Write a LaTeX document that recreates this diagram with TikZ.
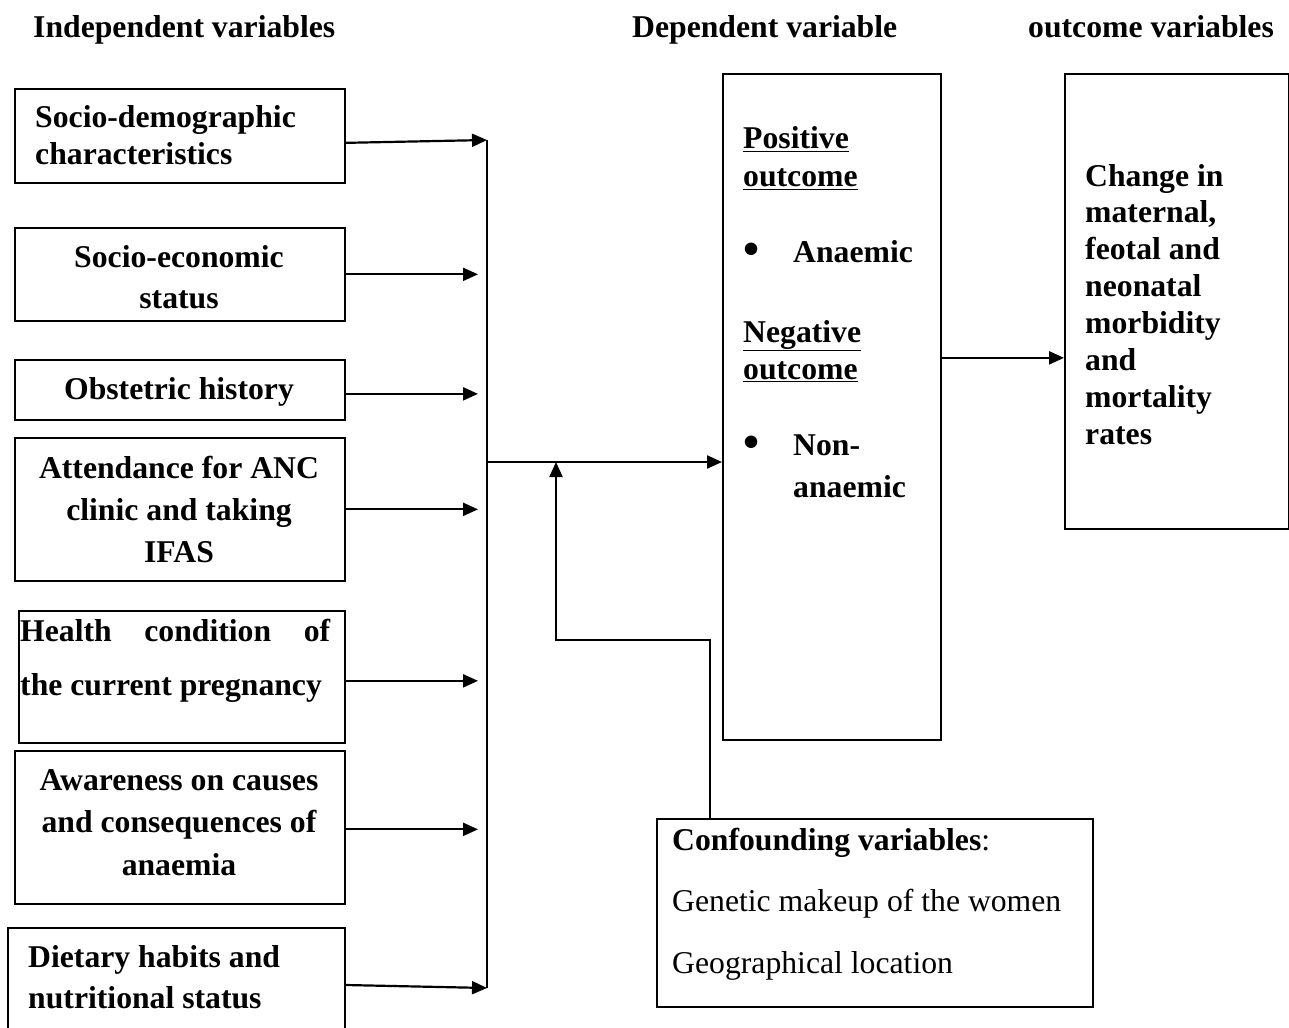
\documentclass[tikz,border=0pt]{standalone}
\usepackage{fontspec}
\usepackage{graphicx}
\setmainfont{Liberation Serif}
\usetikzlibrary{arrows.meta}
\newcommand\tabL[2]{{\fontsize{31.7}{#1}\selectfont\begin{tabular}[t]{@{}l@{}}#2\end{tabular}}}
\newcommand\tabC[2]{{\fontsize{31.7}{#1}\selectfont\begin{tabular}[t]{@{}c@{}}#2\end{tabular}}}
\newcommand\tabB[2]{{\fontsize{31.7}{#1}\selectfont\begin{tabular}[t]{@{}p{50pt}@{}l@{}}#2\end{tabular}}}
\newcommand\bigbul{\raisebox{-2.5pt}{\scalebox{1.45}{\textbullet}}}
\begin{document}
\begin{tikzpicture}[x=1pt,y=-1pt,
  box/.style={draw, line width=1.7pt, anchor=north west, inner sep=0pt},
  txt/.style={anchor=base west, inner sep=0pt, font=\bfseries\fontsize{31.7}{37}\selectfont},
  ctxt/.style={anchor=base, inner sep=0pt, font=\bfseries\fontsize{31.7}{37}\selectfont},
  ntxt/.style={anchor=base west, inner sep=0pt, font=\fontsize{31.7}{37}\selectfont},
  arr/.style={line width=2.2pt, -{Triangle[length=15pt,width=13pt]}},
  conn/.style={line width=2.2pt}]
\fill[white] (0,0) rectangle (1289,1027);
\useasboundingbox (0,0) rectangle (1289,1027);

% headers
\node[txt] (h1) at (33,38) {Independent variables};
\node[txt] (h2) at (632,38) {Dependent variable};
\node[txt] (h3) at (1028,38) {outcome variables};

% left boxes
\node[box, minimum width=330pt, minimum height=94pt] (b1) at (14,88) {};
\node[box, minimum width=330pt, minimum height=93pt] (b2) at (14,227) {};
\node[box, minimum width=330pt, minimum height=60pt] (b3) at (14,359) {};
\node[box, minimum width=330pt, minimum height=143pt] (b4) at (14,437) {};
\node[box, minimum width=326pt, minimum height=132pt] (b5) at (18,610) {};
\node[box, minimum width=330pt, minimum height=153pt] (b6) at (14,750) {};
\node[box, minimum width=337pt, minimum height=130pt] (b7) at (7,927) {};

\node[txt] (t1) at (35,128) {\tabL{37}{Socio-demographic\\characteristics}};
\node[ctxt] (t2) at (179,267) {\tabC{41}{Socio-economic\\status}};
\node[ctxt] (t3) at (179,399) {\tabC{41}{Obstetric history}};
\node[ctxt] (t4) at (179,478) {\tabC{42}{Attendance for ANC\\clinic and taking\\IFAS}};
\node[txt] (t5) at (20,641) {\tabL{54}{\makebox[310pt]{Health\hfill condition\hfill of}\\the current pregnancy}};
\node[ctxt] (t6) at (179,790) {\tabC{42.5}{Awareness on causes\\and consequences of\\anaemia}};
\node[txt] (t7) at (28,967) {\tabL{41}{Dietary habits and\\nutritional status}};

% dependent box
\node[box, minimum width=218pt, minimum height=666pt] (dep) at (722,73) {};
\node[txt] (pos) at (743,149) {\tabL{38}{\underline{Positive}\\\underline{outcome}}};
\node[txt] (ana) at (743,262) {\makebox[50pt][l]{\bigbul}Anaemic};
\node[txt] (neg) at (743,342) {\tabL{37}{\underline{Negative}\\\underline{outcome}}};
\node[txt] (non) at (743,455) {\tabB{42}{\bigbul & Non-\\ & anaemic}};

% outcome box
\node[box, minimum width=224pt, minimum height=455pt] (out) at (1064,73) {};
\node[txt] (ot) at (1085,186) {\tabL{36.9}{Change in\\maternal,\\feotal and\\neonatal\\morbidity\\and\\mortality\\rates}};

% confounding box
\node[box, minimum width=436pt, minimum height=188pt] (conf) at (656,818) {};
\node[ntxt] (c1) at (672,850) {\textbf{Confounding variables}:};
\node[ntxt] (c2) at (672,911) {Genetic makeup of the women};
\node[ntxt] (c3) at (672,973) {Geographical location};

% bus
\coordinate (busTop) at (487,140);
\coordinate (busBot) at (487,988);
\coordinate (j) at (487,462);
\coordinate (tipx) at (478,0);
\coordinate (cj) at (556,462);
\coordinate (bend) at (556,640);

\draw[conn] (busTop) -- (busBot);
\draw[arr] ([yshift=-7pt]b1.east) -- (busTop);
\draw[arr] (b2.east) -- (b2.east -| tipx);
\draw[arr] ([yshift=-4pt]b3.east) -- ([yshift=-4pt]b3.east -| tipx);
\draw[arr] (b4.east) -- (b4.east -| tipx);
\draw[arr] ([yshift=-4pt]b5.east) -- ([yshift=-4pt]b5.east -| tipx);
\draw[arr] ([yshift=-2pt]b6.east) -- ([yshift=-2pt]b6.east -| tipx);
\draw[arr] (b7.north east |- 0,985) -- (busBot);
\draw[arr] (j) -- (j -| dep.west);
\draw[arr] ([xshift=54pt]conf.north west) |- (bend) -- (cj);
\draw[arr] ([yshift=49pt]dep.east) -- ([yshift=49pt]dep.east -| out.west);
\end{tikzpicture}
\end{document}
